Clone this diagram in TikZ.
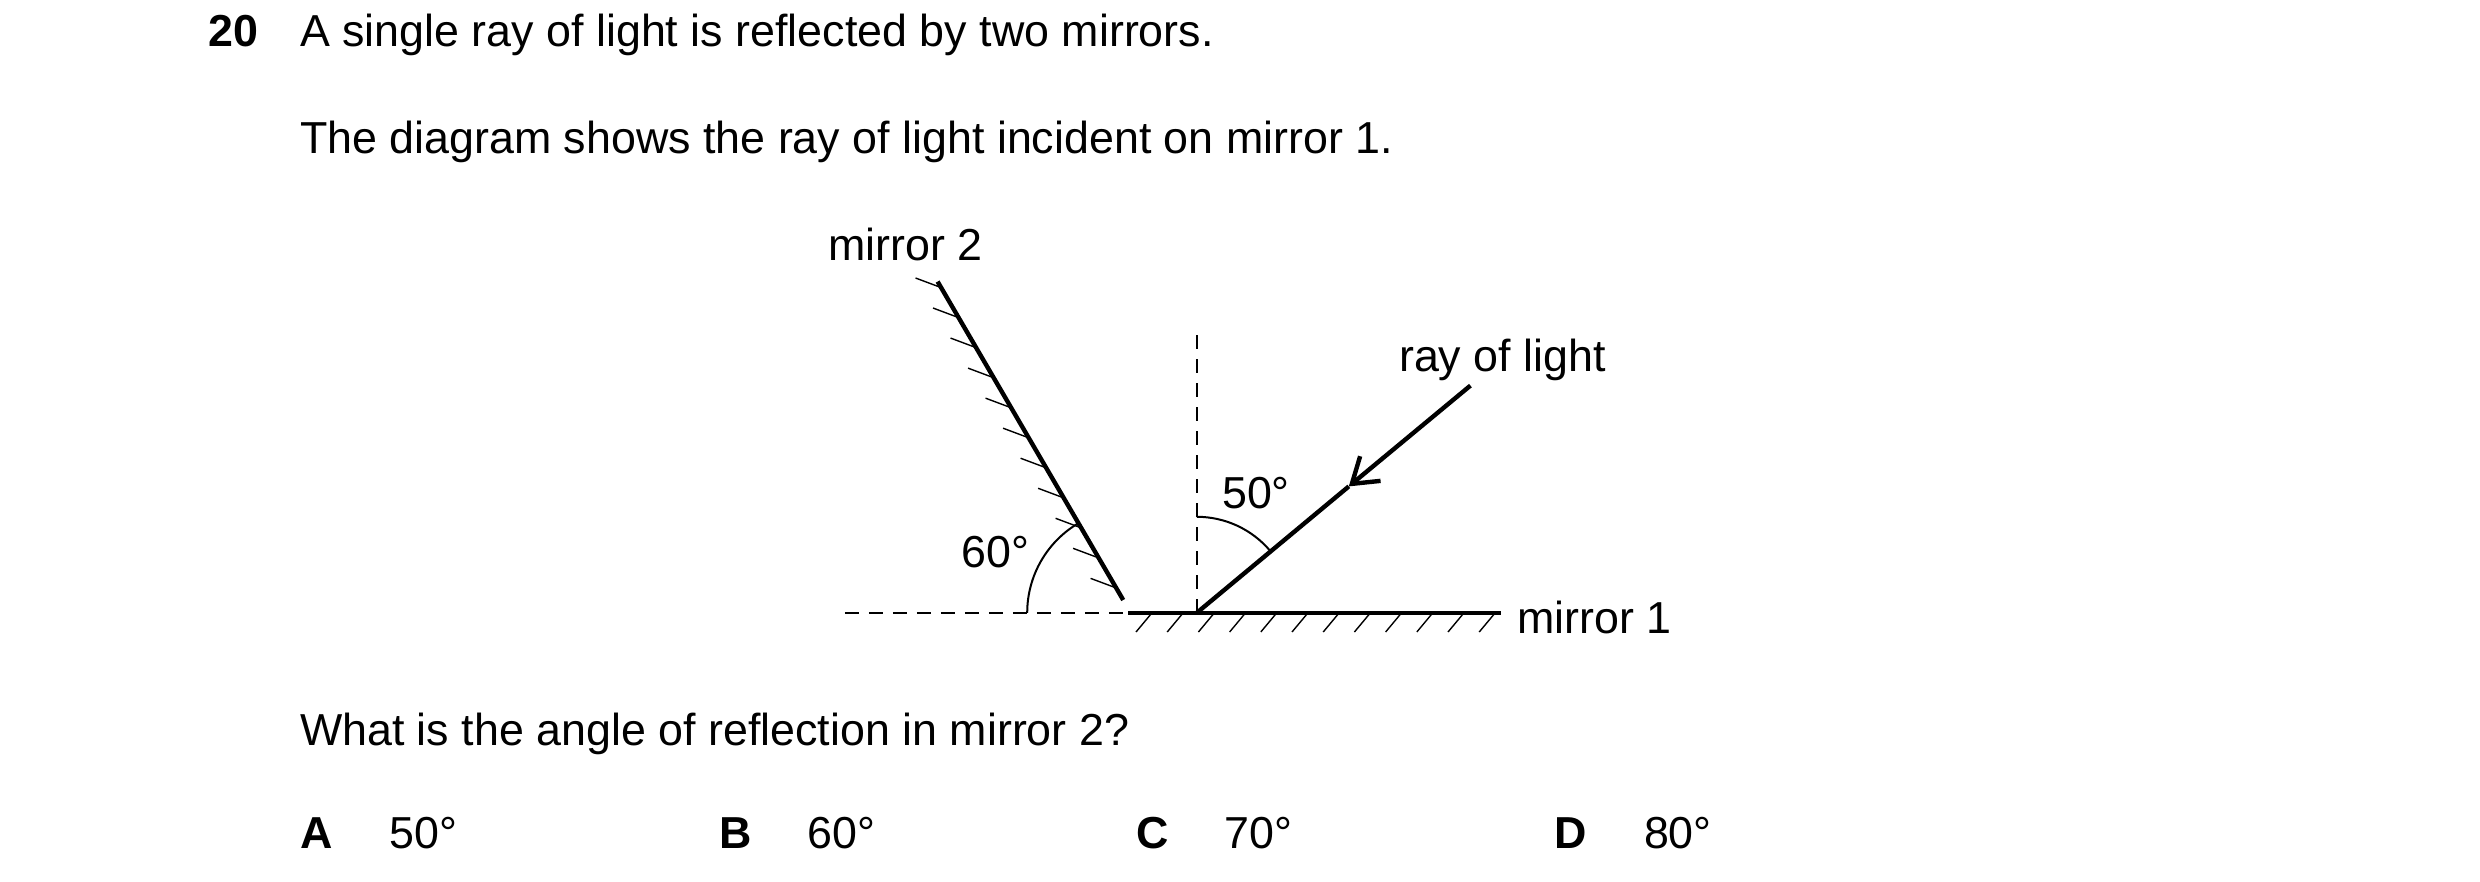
\documentclass[tikz,border=0pt]{standalone}
\usepackage{fontspec}
\setmainfont{Liberation Sans}
\usetikzlibrary{arrows.meta,calc}
\begin{document}
\begin{tikzpicture}[x=0.4pt,y=-0.4pt,
  txt/.style={inner sep=0pt,font=\fontsize{11.2}{13}\selectfont},
  bld/.style={inner sep=0pt,font=\fontsize{11.2}{13}\selectfont\bfseries},
  mir/.style={line width=1.1pt},
  hat/.style={line width=0.35pt},
  dsh/.style={line width=0.5pt,dash pattern=on 3.5pt off 2.5pt},
  thin/.style={line width=0.5pt}]
\useasboundingbox (0,0) rectangle (1550,551);
% texts
\node[bld,anchor=base west] (q) at (130,29) {20};
\node[txt,anchor=base west] (t1) at (187,29) {A single ray of light is reflected by two mirrors.};
\node[txt,anchor=base west] (t2) at (187,96) {The diagram shows the ray of light incident on mirror 1.};
\node[txt,anchor=base west] (t3) at (187,466) {What is the angle of reflection in mirror 2?};
\node[bld,anchor=base west] (A) at (187,530) {A};
\node[txt,anchor=base west] (a) at (243,530) {50°};
\node[bld,anchor=base west] (B) at (449,530) {B};
\node[txt,anchor=base west] (b) at (504,530) {60°};
\node[bld,anchor=base west] (C) at (710,530) {C};
\node[txt,anchor=base west] (c) at (765,530) {70°};
\node[bld,anchor=base west] (D) at (971,530) {D};
\node[txt,anchor=base west] (d) at (1027,530) {80°};
% diagram points
\coordinate (P) at (748,383);
\coordinate (M1a) at (705,383);
\coordinate (M1b) at (938,383);
\coordinate (M2a) at (586,176);
\coordinate (M2b) at (702,375);
\coordinate (V) at (748,205);
\coordinate (H) at (528,383);
\coordinate (R) at (919,241);
\coordinate (Rm) at (843,304);
\coordinate (O2) at (707,383);
% mirror 1 hatches
\foreach \i in {0,...,11} {
  \draw[hat] ($(720,383)+(\i*19.5,0)$) -- ++(-10,12);
}
\draw[mir] (M1a) -- (M1b);
\node[txt,anchor=base west] (m1) at (948,396) {mirror 1};
% mirror 2 hatches
\foreach \i in {0,...,10} {
  \draw[hat] ($(M2a)!{(\i+0.2)/10.6}!(M2b)$) -- ++(-16,-6);
}
\draw[mir] (M2a) -- (M2b);
\node[txt,anchor=base] (m2) at (566,163) {mirror 2};
% dashed lines
\draw[dsh] (P) -- (V);
\draw[dsh] (H) -- (M1a);
% ray
\draw[mir,-{Straight Barb[length=6pt,width=8pt]}] (R) -- (Rm);
\draw[mir] (Rm) -- (P);
\node[txt,anchor=base] (ray) at (939,232) {ray of light};
% angles
\draw[thin] ($(P)+(0,-60)$) arc[start angle=-90,end angle=-40,radius=60];
\node[txt,anchor=base] (a50) at (785,318) {50°};
\draw[thin] ($(O2)+(-65,0)$) arc[start angle=180,end angle=239.7,radius=65];
\node[txt,anchor=base] (a60) at (622,355) {60°};
\end{tikzpicture}
\end{document}
